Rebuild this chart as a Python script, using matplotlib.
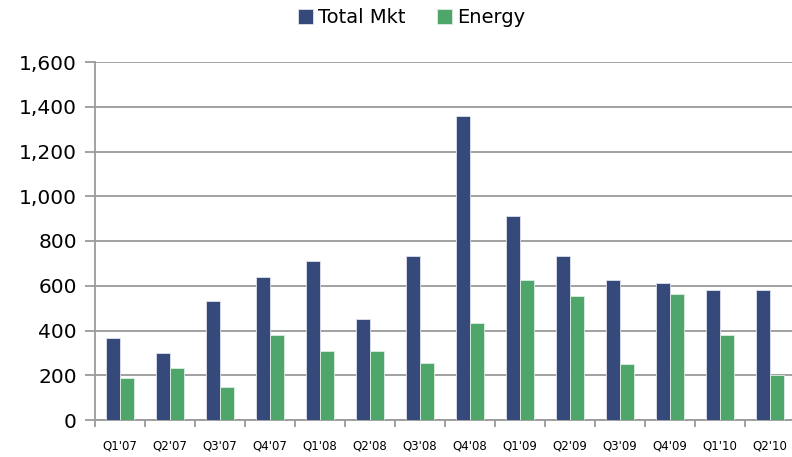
import numpy as np
import matplotlib
matplotlib.use("Agg")
from matplotlib import pyplot as plt
from matplotlib.ticker import FuncFormatter

# quarterly deal values
quarters = ["Q1'07", "Q2'07", "Q3'07", "Q4'07", "Q1'08", "Q2'08", "Q3'08",
            "Q4'08", "Q1'09", "Q2'09", "Q3'09", "Q4'09", "Q1'10", "Q2'10"]
total_mkt = [365, 301, 533, 640, 710, 450, 734, 1358, 912, 734, 626, 611, 580, 580]
energy = [186, 232, 147, 378, 310, 310, 256, 432, 626, 555, 249, 564, 378, 200]

blue = '#35497a'
green = '#4ea66a'
grid_col = '#9a9a9a'

fig = plt.figure(figsize=(7.92, 4.57), dpi=100)
ax = fig.add_axes([95 / 792, 37 / 457, 700 / 792, 358 / 457])

x = np.arange(len(quarters))
w = 0.28
ax.bar(x - w / 2, total_mkt, w, color=blue, edgecolor='#dfe3ec', linewidth=0.6,
       label='Total Mkt', zorder=3)
ax.bar(x + w / 2, energy, w, color=green, edgecolor='#dcefe2', linewidth=0.6,
       label='Energy', zorder=3)

ax.set_xlim(-0.5, len(quarters) - 0.5)
ax.set_ylim(0, 1600)
ax.set_yticks(range(0, 1601, 200))
ax.yaxis.set_major_formatter(FuncFormatter(lambda v, p: '{:,.0f}'.format(v)))
ax.grid(axis='y', color=grid_col, linewidth=1.3, zorder=0)

# labels at category centres, tick marks at the boundaries
ax.set_xticks(x)
ax.set_xticklabels(quarters, fontsize=8.5)
ax.set_xticks(np.arange(-0.5, len(quarters), 1), minor=True)
ax.tick_params(axis='x', which='major', length=0, pad=14)
ax.tick_params(axis='x', which='minor', length=5, color=grid_col, width=1.3)
ax.tick_params(axis='y', length=7, color=grid_col, width=1.3, labelsize=14.5, pad=6)

for s in ['top', 'right']:
    ax.spines[s].set_visible(False)
for s in ['left', 'bottom']:
    ax.spines[s].set_color(grid_col)
    ax.spines[s].set_linewidth(1.3)

fig.legend(loc='upper center', bbox_to_anchor=(0.52, 1.02), ncol=2, frameon=False,
           fontsize=14, handlelength=0.75, handleheight=0.75, handletextpad=0.3,
           columnspacing=1.6)

fig.savefig('out.png', dpi=100)
